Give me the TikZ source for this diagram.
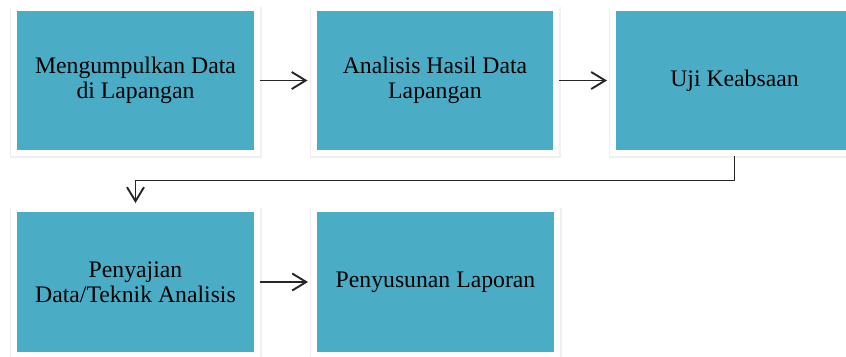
\documentclass[tikz,border=0pt]{standalone}
\usepackage{fontspec}
\setmainfont{Liberation Serif}
\usetikzlibrary{arrows.meta,shadows}
\definecolor{birulaut}{HTML}{4BACC6}

\begin{document}
\begin{tikzpicture}[x=0.02cm,y=-0.02cm,
 kotak/.style={fill=birulaut,draw=white,line width=1.2mm,minimum width=4.86cm,minimum height=2.92cm,inner sep=0pt,align=center,
   font=\fontsize{13.5}{14.5}\selectfont,
   drop shadow={opacity=0.12,shadow xshift=0.1mm,shadow yshift=-0.3mm,shadow scale=1.035}},
 panah/.style={-{Straight Barb[length=2.8mm,width=3.4mm]},line width=0.38mm,black!85,shorten >=0.6mm}]
 \clip (0,0) rectangle (846,356);
 \node[kotak] (kumpul) at (135.5,80.5) {Mengumpulkan Data\\di Lapangan};
 \node[kotak] (analisis) at (435,80.5) {Analisis Hasil Data\\Lapangan};
 \node[kotak] (uji) at (734.5,80.5) {Uji Keabsaan};
 \node[kotak] (saji) at (135.5,282) {Penyajian\\Data/Teknik Analisis};
 \node[kotak] (lapor) at (435.5,282) {Penyusunan Laporan};
 \draw[panah] (kumpul) -- (analisis);
 \draw[panah] (analisis) -- (uji);
 \draw[panah] (uji.south) -- ++(0,24) -| (saji.north);
 \draw[panah] (saji) -- (lapor);
\end{tikzpicture}
\end{document}
